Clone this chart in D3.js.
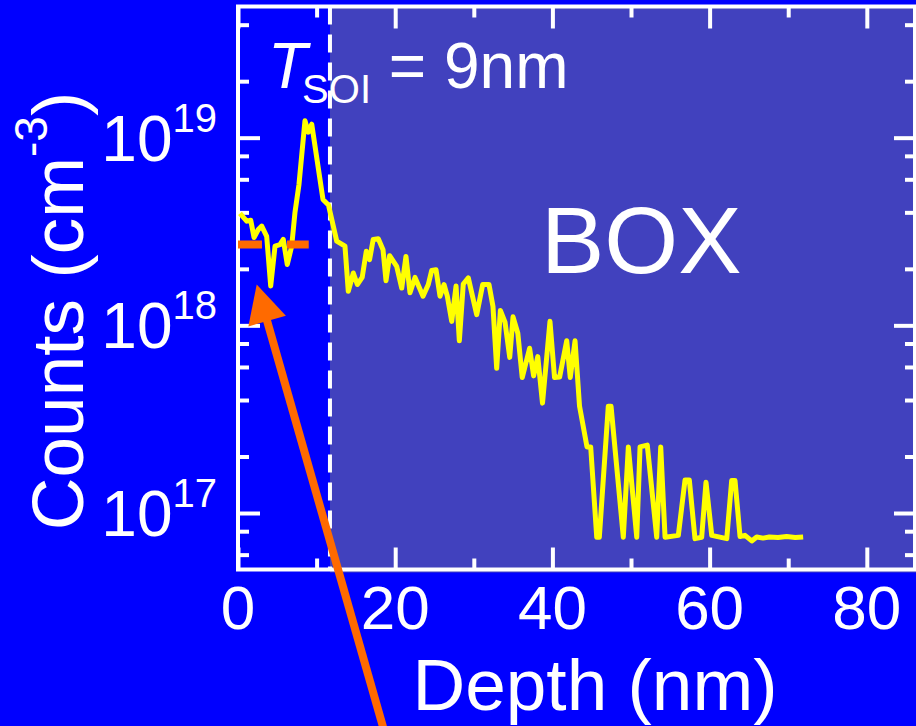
<!DOCTYPE html>
<html>
<head>
<meta charset="utf-8">
<title>SIMS depth profile</title>
<script src="https://d3js.org/d3.v7.min.js"></script>
<style>
  body { margin: 0; padding: 0; overflow: hidden; background: #0000ff; }
  svg text { font-family: "Liberation Sans", Arial, Helvetica, sans-serif; fill: #fff; }
</style>
</head>
<body>
<svg id="chart"></svg>
<script>
var width = 916, height = 726;

// depth profile (nm, cm^-3)
var depth = [0.25, 1.11, 1.62, 2.04, 2.58, 3.02, 3.65, 4.16, 4.71, 5.34,
  5.76, 6.27, 6.83, 7.25, 7.76, 8.52, 8.94, 9.38, 10.81, 11.51,
  12.56, 13.61, 14.03, 14.67, 15.18, 15.8, 16.32, 16.74, 17.2, 17.85,
  18.45, 18.83, 19.29, 20.19, 20.83, 21.37, 21.88, 22.52, 23.54, 24.21,
  24.64, 25.19, 25.7, 26.21, 26.63, 27.19, 27.74, 28.16, 28.66, 29.3,
  30.37, 31.13, 31.93, 32.44, 32.91, 33.38, 33.97, 34.57, 34.99, 35.6,
  36.16, 37.1, 37.61, 38.14, 38.74, 39.69, 40.27, 40.92, 41.82, 42.27,
  42.88, 43.45, 44.4, 44.87, 45.64, 45.97, 47.11, 47.46, 49.02, 49.66,
  50.73, 51.15, 52.07, 53.27, 53.78, 54.33, 56.02, 56.87, 57.42, 58.14,
  58.99, 59.54, 60.27, 62.18, 62.81, 63.23, 63.87, 64.5, 65.36, 65.99,
  66.8, 67.6, 68.7, 69.8, 70.9, 71.9];
var counts = [3.95e18, 3.59e18, 3.63e18, 2.94e18, 3.24e18, 3.38e18, 2.98e18, 1.62e18, 2.64e18, 2.69e18,
  2.87e18, 2.11e18, 2.64e18, 4.0e18, 5.64e18, 1.23e19, 1.07e19, 1.18e19, 4.69e18, 4.38e18,
  2.81e18, 2.64e18, 1.52e18, 1.90e18, 1.65e18, 1.80e18, 2.48e18, 2.24e18, 2.87e18, 2.89e18,
  2.53e18, 1.73e18, 2.35e18, 2.06e18, 1.58e18, 2.33e18, 1.49e18, 1.80e18, 1.43e18, 1.65e18,
  1.96e18, 1.98e18, 1.43e18, 1.65e18, 1.43e18, 1.05e18, 1.62e18, 8.27e17, 1.66e18, 1.79e18,
  1.14e18, 1.65e18, 1.65e18, 1.26e18, 5.90e17, 1.20e18, 1.04e18, 6.75e17, 1.11e18, 9.08e17,
  5.27e17, 7.55e17, 5.38e17, 6.81e17, 3.85e17, 1.05e18, 5.27e17, 5.3e17, 8.27e17, 5.27e17,
  8.27e17, 3.71e17, 2.25e17, 2.25e17, 7.43e16, 7.43e16, 3.71e17, 3.71e17, 7.43e16, 2.25e17,
  7.43e16, 2.25e17, 2.3e17, 7.43e16, 2.25e17, 7.43e16, 7.6e16, 1.5e17, 1.5e17, 7.3e16,
  7.43e16, 1.46e17, 7.6e16, 7.3e16, 1.49e17, 1.49e17, 7.5e16, 7.6e16, 7.1e16, 7.45e16,
  7.35e16, 7.45e16, 7.4e16, 7.5e16, 7.4e16, 7.45e16];

var xMajor = [0, 20, 40, 60, 80];
var xMinor = [10, 30, 50, 70];
var yMajor = [1e17, 1e18, 1e19];
var yExp = ["17", "18", "19"];
var yMinor = [6e16, 8e16, 2e17, 4e17, 6e17, 8e17, 2e18, 4e18, 6e18, 8e18, 2e19, 4e19];

var tsoi = 9;            // nm
var boxStart = 11.7;     // start of buried oxide
var refLevel = 2.7e18;   // orange reference level
var arrowTail = [19.7, 4.75e15];
var arrowTip = [2.38, 1.65e18];

var svg = d3.select("#chart").attr("width", width).attr("height", height);

var x = d3.scaleLinear().domain([0, 86.13]).range([238, 915]);
var y = d3.scaleLog().domain([5e16, 5e19]).range([569.5, 6.5]);

// BOX shading
svg.append("rect")
  .attr("x", x(boxStart)).attr("y", y(5e19))
  .attr("width", width - x(boxStart)).attr("height", y(5e16) - y(5e19) + 3)
  .attr("fill", "#4141be");

// interface dashed line
svg.append("line")
  .attr("x1", x(boxStart)).attr("x2", x(boxStart))
  .attr("y1", y(5e19)).attr("y2", y(5e16))
  .attr("stroke", "#fff").attr("stroke-width", 4)
  .attr("stroke-dasharray", "18,10");

// ticks
function tickG(axis, tx, ty) {
  var g = svg.append("g").attr("transform", "translate(" + tx + "," + ty + ")").call(axis);
  g.select(".domain").remove();
  g.selectAll(".tick line").attr("stroke", "#fff").attr("stroke-width", 4);
  return g;
}
tickG(d3.axisBottom(x).tickValues(xMajor).tickSize(-22).tickFormat(""), 0, y(5e16));
tickG(d3.axisBottom(x).tickValues(xMinor).tickSize(-11).tickFormat(""), 0, y(5e16));
tickG(d3.axisTop(x).tickValues(xMajor).tickSize(-22).tickFormat(""), 0, y(5e19));
tickG(d3.axisTop(x).tickValues(xMinor).tickSize(-11).tickFormat(""), 0, y(5e19));
tickG(d3.axisLeft(y).tickValues(yMajor).tickSize(-22).tickFormat(""), x(0), 0);
tickG(d3.axisLeft(y).tickValues(yMinor).tickSize(-11).tickFormat(""), x(0), 0);
tickG(d3.axisRight(y).tickValues(yMajor).tickSize(-21).tickFormat(""), x(86.13), 0);
tickG(d3.axisRight(y).tickValues(yMinor).tickSize(-10).tickFormat(""), x(86.13), 0);

// frame
svg.append("rect")
  .attr("x", x(0)).attr("y", y(5e19))
  .attr("width", x(86.13) - x(0)).attr("height", y(5e16) - y(5e19))
  .attr("fill", "none").attr("stroke", "#fff").attr("stroke-width", 4);

// profile
var line = d3.line().x(function(d) { return x(d[0]); }).y(function(d) { return y(d[1]); });
svg.append("path")
  .attr("d", line(d3.zip(depth, counts)))
  .attr("fill", "none").attr("stroke", "#ffff00")
  .attr("stroke-width", 5).attr("stroke-linejoin", "round");

// orange reference level in the SOI
svg.append("line")
  .attr("x1", x(0)).attr("x2", x(tsoi))
  .attr("y1", y(refLevel)).attr("y2", y(refLevel))
  .attr("stroke", "#ff6a00").attr("stroke-width", 8)
  .attr("stroke-dasharray", "24,25");

// arrow
var p0 = [x(arrowTail[0]), y(arrowTail[1])], p1 = [x(arrowTip[0]), y(arrowTip[1])];
var len = Math.hypot(p0[0] - p1[0], p0[1] - p1[1]);
var ux = (p0[0] - p1[0]) / len, uy = (p0[1] - p1[1]) / len;
var headL = 38, headW = 19.5;
var bx = p1[0] + ux * headL, by = p1[1] + uy * headL;
svg.append("line")
  .attr("x1", p0[0]).attr("y1", p0[1]).attr("x2", bx - ux * 2).attr("y2", by - uy * 2)
  .attr("stroke", "#ff6a00").attr("stroke-width", 8);
svg.append("path")
  .attr("d", "M" + p1[0] + "," + p1[1] +
    "L" + (bx - uy * headW) + "," + (by + ux * headW) +
    "L" + (bx + uy * headW) + "," + (by - ux * headW) + "Z")
  .attr("fill", "#ff6a00");

// x tick labels
svg.selectAll(".xlab").data(xMajor).enter().append("text")
  .attr("x", function(d) { return x(d); }).attr("y", 629)
  .attr("text-anchor", "middle").style("font-size", "62px")
  .text(function(d) { return d; });

// y tick labels 10^n
yMajor.forEach(function(v, i) {
  var t = svg.append("text").attr("x", 217).attr("y", y(v) + 23)
    .attr("text-anchor", "end").style("font-size", "64px");
  t.append("tspan").text("10");
  t.append("tspan").attr("dy", -29).style("font-size", "40px").text(yExp[i]);
});

// axis titles
svg.append("text").attr("x", 595).attr("y", 710)
  .attr("text-anchor", "middle").style("font-size", "73px").text("Depth (nm)");

var yt = svg.append("text").attr("transform", "translate(83,311) rotate(-90)")
  .attr("text-anchor", "middle").style("font-size", "73px");
yt.append("tspan").text("Counts (cm");
yt.append("tspan").attr("dy", -36).style("font-size", "46px").text("-3");
yt.append("tspan").attr("dy", 36).text(")");

// annotations
var ts = svg.append("text").attr("x", 268).attr("y", 88).style("font-size", "64px");
ts.append("tspan").style("font-style", "italic").text("T");
ts.append("tspan").attr("dx", -5).attr("dy", 14.5).style("font-size", "40px").text("SOI");
ts.append("tspan").attr("dy", -14.5).text(" = " + tsoi + "nm");

svg.append("text").attr("x", 541).attr("y", 273)
  .style("font-size", "95px").text("BOX");
</script>
</body>
</html>
